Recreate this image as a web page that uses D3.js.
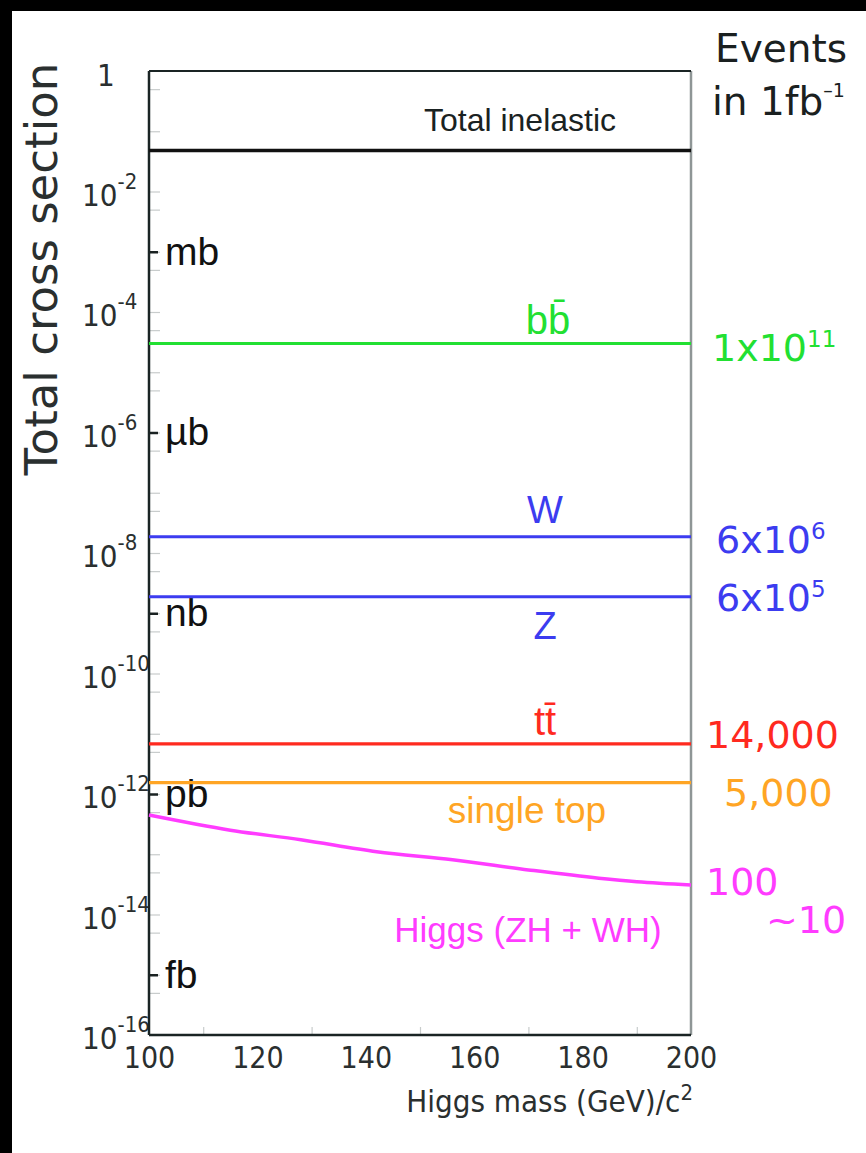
<!DOCTYPE html>
<html>
<head>
<meta charset="utf-8">
<script src="https://cdn.jsdelivr.net/npm/d3@7.9.0/dist/d3.min.js"></script>
<style>
  html, body { margin: 0; padding: 0; background: #fff; }
  svg { display: block; }
  .narrow { font-family: "Liberation Sans Narrow", "DejaVu Sans Condensed", sans-serif; }
  .sans { font-family: "Liberation Sans", Arial, sans-serif; }
  .wide { font-family: "DejaVu Sans", Verdana, sans-serif; }
</style>
</head>
<body>
<svg id="chart" width="866" height="1153"></svg>
<script>
// x axis: Higgs mass
const massDomain = [100, 200];
const massTicks = [100, 120, 140, 160, 180, 200];
const massMinorTicks = [110, 130, 150, 170, 190];

// y axis: cross section in barn, log scale
const xsecDomain = [1, 1e-16];
const decadeExponents = [0, -2, -4, -6, -8, -10, -12, -14, -16];
const unitNames = ['mb', 'µb', 'nb', 'pb', 'fb'];
const unitValues = [1e-3, 1e-6, 1e-9, 1e-12, 1e-15];

// flat processes
const processNames = ['Total inelastic', 'bb\u0304', 'W', 'Z', 'tt\u0304', 'single top'];
const processXsec = [4.8e-2, 3.0e-5, 1.86e-8, 1.88e-9, 6.8e-12, 1.55e-12];
const eventBase = ['', '1x10', '6x10', '6x10', '14,000', '5,000'];
const eventSup = ['', '11', '6', '5', '', ''];

// Higgs (ZH + WH) vs mass
const higgsMass = [100, 115, 128, 142, 156, 170, 183, 190, 200];
const higgsXsec = [4.47e-13, 2.51e-13, 1.74e-13, 1.10e-13, 8.1e-14, 5.5e-14, 4.0e-14, 3.5e-14, 3.1e-14];
const higgsEvents = ['100', '~10'];

const colors = ['#111111', '#22e032', '#3c3cf0', '#3c3cf0', '#ff2a1f', '#ffa524'];
const higgsColor = '#ff3cff';

// label placement (pixels)
const procLabelX = [520, 548, 545, 545, 545, 527];
const procLabelDy = [-19, -10, -14, 42, -9, 40];
const procLabelSize = [32, 40, 38, 38, 40, 37];
const eventX = [0, 712, 716, 716, 706, 724];
const eventDy = [0, 17, 16, 14, 4, 23];

const svg = d3.select('#chart');
const x = d3.scaleLinear().domain(massDomain).range([149, 691]);
const y = d3.scaleLog().domain(xsecDomain).range([71, 1035]);

// black scan borders
svg.append('rect').attr('x', 0).attr('y', 0).attr('width', 866).attr('height', 11).attr('fill', '#000');
svg.append('rect').attr('x', 0).attr('y', 0).attr('width', 12).attr('height', 1153).attr('fill', '#000');

// minor y ticks at 1e-n and 5e-(n+1)
const minorY = [];
d3.range(0, 16).forEach((n) => {
  minorY.push(5 * Math.pow(10, -n - 1));
  minorY.push(Math.pow(10, -n - 1));
});
const minorAxis = svg.append('g')
  .attr('transform', 'translate(149,0)')
  .call(d3.axisRight(y).tickValues(minorY).tickSize(11).tickFormat(''));
minorAxis.select('.domain').remove();
minorAxis.selectAll('line').attr('stroke', '#c8cccc').attr('stroke-width', 1.2);

// unit ticks
const unitAxis = svg.append('g')
  .attr('transform', 'translate(149,0)')
  .call(d3.axisRight(y).tickValues(unitValues).tickSize(9).tickPadding(7)
    .tickFormat((d, i) => unitNames[i]));
unitAxis.select('.domain').remove();
unitAxis.selectAll('line').attr('stroke', '#1a2222').attr('stroke-width', 2.5);
unitAxis.selectAll('text')
  .attr('class', 'sans')
  .attr('font-size', 39)
  .attr('fill', '#111');

// x axis
const xMinor = svg.append('g')
  .attr('transform', 'translate(0,1035)')
  .call(d3.axisBottom(x).tickValues(massMinorTicks).tickSize(-8).tickFormat(''));
xMinor.select('.domain').remove();
xMinor.selectAll('line').attr('stroke', '#c8cccc').attr('stroke-width', 1.2);

const xAxis = svg.append('g')
  .attr('transform', 'translate(0,1035)')
  .call(d3.axisBottom(x).tickValues(massTicks).tickSize(0).tickPadding(12).tickFormat(d3.format('d')));
xAxis.select('.domain').remove();
xAxis.selectAll('text')
  .attr('class', 'narrow')
  .attr('font-size', 30)
  .attr('fill', '#2a2f2f');

svg.append('text')
  .attr('class', 'narrow')
  .attr('x', 693).attr('y', 1112)
  .attr('text-anchor', 'end')
  .attr('font-size', 31)
  .attr('fill', '#2a2f2f')
  .call((t) => {
    t.append('tspan').text('Higgs mass (GeV)/c');
    t.append('tspan').attr('dy', -12).attr('font-size', 22).text('2');
  });

// y decade labels
const yLabels = svg.append('g').attr('class', 'narrow').attr('fill', '#2a2f2f');
decadeExponents.forEach((e) => {
  const yy = y(Math.pow(10, e));
  const t = yLabels.append('text').attr('font-size', 31);
  if (e === 0) {
    t.attr('x', 97).attr('y', yy + 15).text('1');
    return;
  }
  t.attr('x', 82).attr('y', yy + 14);
  t.append('tspan').text('10');
  t.append('tspan').attr('dy', -17).attr('font-size', 22).text(String(e));
});

// frame
const frame = svg.append('g').attr('fill', 'none');
frame.append('line').attr('x1', x(200)).attr('x2', x(200)).attr('y1', y(1)).attr('y2', y(1e-16))
  .attr('stroke', '#8f9696').attr('stroke-width', 2.5);
frame.append('line').attr('x1', x(100)).attr('x2', x(200)).attr('y1', y(1)).attr('y2', y(1))
  .attr('stroke', '#1a2424').attr('stroke-width', 2);
frame.append('line').attr('x1', x(100)).attr('x2', x(200)).attr('y1', y(1e-16)).attr('y2', y(1e-16))
  .attr('stroke', '#1a2424').attr('stroke-width', 2.5);
frame.append('line').attr('x1', x(100)).attr('x2', x(100)).attr('y1', y(1)).attr('y2', y(1e-16))
  .attr('stroke', '#1a2424').attr('stroke-width', 2.5);

// process lines
const procs = processNames.map((name, i) => ({
  name, xsec: processXsec[i], color: colors[i], base: eventBase[i], sup: eventSup[i], i,
}));

svg.append('g').selectAll('line')
  .data(procs)
  .join('line')
  .attr('x1', x(massDomain[0]))
  .attr('x2', x(massDomain[1]))
  .attr('y1', (d) => y(d.xsec))
  .attr('y2', (d) => y(d.xsec))
  .attr('stroke', (d) => d.color)
  .attr('stroke-width', (d) => (d.i === 0 ? 3.5 : 3.2));

svg.append('g').attr('class', 'sans').selectAll('text')
  .data(procs)
  .join('text')
  .attr('x', (d) => procLabelX[d.i])
  .attr('y', (d) => y(d.xsec) + procLabelDy[d.i])
  .attr('text-anchor', 'middle')
  .attr('font-size', (d) => procLabelSize[d.i])
  .attr('fill', (d) => (d.i === 0 ? '#1a2222' : d.color))
  .text((d) => d.name);

// events column
const ev = svg.append('g').attr('class', 'wide').attr('font-size', 38);
procs.filter((d) => d.base).forEach((d) => {
  const t = ev.append('text')
    .attr('x', eventX[d.i])
    .attr('y', y(d.xsec) + eventDy[d.i])
    .attr('fill', d.color);
  t.append('tspan').text(d.base);
  if (d.sup) t.append('tspan').attr('dy', -14).attr('font-size', 23).text(d.sup);
});

// Higgs curve
const higgs = higgsMass.map((m, i) => ({ m, v: higgsXsec[i] }));
svg.append('path')
  .datum(higgs)
  .attr('fill', 'none')
  .attr('stroke', higgsColor)
  .attr('stroke-width', 3.5)
  .attr('d', d3.line().x((d) => x(d.m)).y((d) => y(d.v)).curve(d3.curveMonotoneX));

svg.append('text')
  .attr('class', 'sans')
  .attr('x', 528).attr('y', 942)
  .attr('text-anchor', 'middle')
  .attr('font-size', 35)
  .attr('fill', higgsColor)
  .text('Higgs (ZH + WH)');

ev.append('text').attr('x', 706).attr('y', y(higgsXsec[higgsXsec.length - 1]) + 10)
  .attr('fill', higgsColor).text(higgsEvents[0]);
ev.append('text').attr('x', 766).attr('y', 933)
  .attr('fill', higgsColor).text(higgsEvents[1]);

// headers
svg.append('text')
  .attr('class', 'wide')
  .attr('transform', 'translate(57,269) rotate(-90)')
  .attr('text-anchor', 'middle')
  .attr('font-size', 45)
  .attr('fill', '#2a2f2f')
  .text('Total cross section');

const hdr = svg.append('g').attr('class', 'wide').attr('font-size', 39).attr('fill', '#1a2020');
hdr.append('text').attr('x', 715).attr('y', 62).text('Events');
hdr.append('text').attr('x', 712).attr('y', 115)
  .call((t) => {
    t.append('tspan').text('in 1fb');
    t.append('tspan').attr('dy', -18).attr('font-size', 19).text('\u20131');
  });
</script>
</body>
</html>
